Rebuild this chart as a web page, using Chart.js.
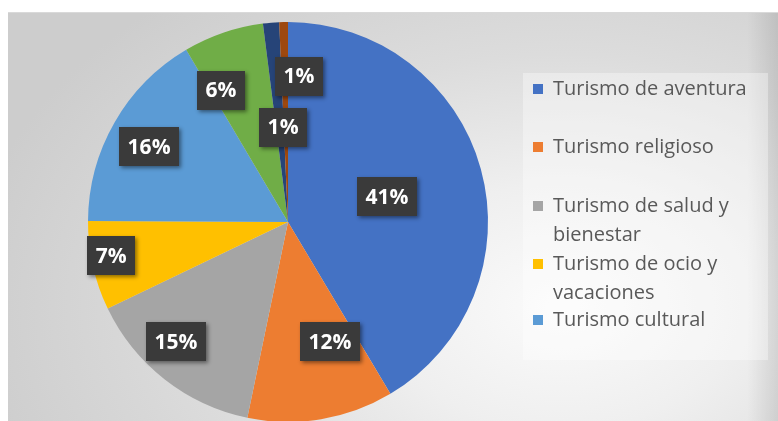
<!DOCTYPE html>
<html>
<head>
<meta charset="utf-8">
<script src="https://cdn.jsdelivr.net/npm/chart.js@4.4.0/dist/chart.umd.min.js"></script>
<style>
  html, body { margin: 0; padding: 0; background: #ffffff; overflow: hidden; }
  #wrap { position: relative; width: 778px; height: 421px; }
  #bg {
    position: absolute; left: 8px; top: 12px; right: 0; bottom: 0;
    border-top: 1px solid #d9d9d9;
    background:
      linear-gradient(to right, rgba(0,0,0,0) 96%, rgba(0,0,0,0.10) 100%),
      radial-gradient(ellipse 78% 100% at 72% 72%, #fbfbfb 0%, #efefef 30%, #dcdcdc 62%, #cdcdcd 100%);
  }
  canvas { position: absolute; left: 0; top: 0; }
</style>
</head>
<body>
<div id="wrap">
  <div id="bg"></div>
  <canvas id="c" width="778" height="421"></canvas>
</div>
<script>
// ---- data ----
const categories = [
  "Turismo de aventura",
  "Turismo religioso",
  "Turismo de salud y bienestar",
  "Turismo de ocio y vacaciones",
  "Turismo cultural",
  "Otros (6%)",
  "Otros (1%) A",
  "Otros (1%) B"
];
const values = [41.4, 11.8, 14.6, 7.2, 16.4, 6.49, 1.3, 0.7];
const legendCount = 5;

// ---- styles ----
const sliceColors = ["#4472C4", "#ED7D31", "#A5A5A5", "#FFC000", "#5B9BD5", "#70AD47", "#264478", "#9E480E"];
// data label placement relative to each slice: fraction of radius and angular offset (deg)
const labelFrac   = [0.51, 0.635, 0.82, 0.90, 0.79, 0.74, 0.475, 0.73];
const labelOffset = [1.2, -9.8, 5.0, 1.8, -1.4, -8.0, 1.9, 5.6];
const legendLineY = [89, 147, 206, 264, 320];

const total = values.reduce((a, b) => a + b, 0);

const labelPlugin = {
  id: 'boxLabels',
  afterDatasetsDraw(chart) {
    const ctx = chart.ctx;
    const meta = chart.getDatasetMeta(0);
    ctx.save();
    ctx.font = 'bold 21px "Open Sans"';
    ctx.textAlign = 'center';
    ctx.textBaseline = 'middle';
    meta.data.forEach((arc, i) => {
      const p = arc.getProps(['x', 'y', 'startAngle', 'endAngle', 'outerRadius'], true);
      const mid = (p.startAngle + p.endAngle) / 2 + labelOffset[i] * Math.PI / 180;
      const r = p.outerRadius * labelFrac[i];
      const cx = p.x + Math.cos(mid) * r;
      const cy = p.y + Math.sin(mid) * r;
      const txt = Math.round(values[i] / total * 100) + '%';
      const w = ctx.measureText(txt).width + 17;
      const h = 39;
      ctx.shadowColor = 'rgba(0,0,0,0.45)';
      ctx.shadowBlur = 4;
      ctx.shadowOffsetX = 2;
      ctx.shadowOffsetY = 2;
      ctx.fillStyle = '#3a3a3a';
      ctx.fillRect(Math.round(cx - w / 2), Math.round(cy - h / 2), Math.round(w), h);
      ctx.shadowColor = 'transparent';
      ctx.fillStyle = '#ffffff';
      ctx.fillText(txt, cx, cy + 1);
    });
    ctx.restore();
  }
};

const legendPlugin = {
  id: 'sideLegend',
  afterDraw(chart) {
    const ctx = chart.ctx;
    ctx.save();
    ctx.fillStyle = 'rgba(255,255,255,0.35)';
    ctx.fillRect(523, 73, 245, 287);
    ctx.font = '20px "Open Sans"';
    ctx.textBaseline = 'middle';
    ctx.textAlign = 'left';
    const maxW = 210;
    for (let i = 0; i < legendCount; i++) {
      const words = categories[i].split(' ');
      const lines = [];
      let cur = '';
      words.forEach(wd => {
        const test = cur ? cur + ' ' + wd : wd;
        if (ctx.measureText(test).width > maxW && cur) { lines.push(cur); cur = wd; }
        else cur = test;
      });
      if (cur) lines.push(cur);
      const y0 = legendLineY[i];
      ctx.fillStyle = sliceColors[i];
      ctx.fillRect(533, y0 - 5, 10, 10);
      ctx.fillStyle = '#595959';
      lines.forEach((ln, k) => ctx.fillText(ln, 553, y0 + k * 29));
    }
    ctx.restore();
  }
};

new Chart(document.getElementById('c'), {
  type: 'pie',
  data: {
    labels: categories,
    datasets: [{
      data: values,
      backgroundColor: sliceColors,
      borderWidth: 0
    }]
  },
  options: {
    responsive: false,
    animation: false,
    radius: 200,
    layout: { padding: { left: 88, right: 290, top: 23, bottom: 0 } },
    plugins: {
      legend: { display: false },
      tooltip: { enabled: false }
    }
  },
  plugins: [labelPlugin, legendPlugin]
});
</script>
</body>
</html>
